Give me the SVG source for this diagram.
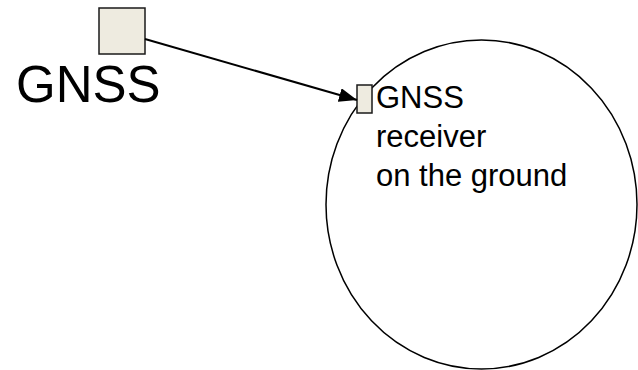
<svg xmlns="http://www.w3.org/2000/svg" width="638" height="370" viewBox="0 0 638 370">
  <style>
    .box { fill: #eeebe0; stroke: #1a1a1a; stroke-width: 1.5; }
    .lbl { font-family: "Liberation Sans", Arial, sans-serif; fill: #000; }
    .edge { stroke: #000; stroke-width: 2; fill: none; }
  </style>
  <defs>
    <marker id="arrow" markerUnits="userSpaceOnUse" markerWidth="20" markerHeight="14" refX="18" refY="7" orient="auto">
      <path d="M0,0 L18,7 L0,14 Z" fill="#000"/>
    </marker>
  </defs>

  <!-- ground region -->
  <g id="ground">
    <ellipse cx="481.5" cy="204.5" rx="155.5" ry="164.5" fill="none" stroke="#000" stroke-width="1.5"/>
    <text class="lbl" font-size="31" x="376" y="108">GNSS</text>
    <text class="lbl" font-size="31" x="376" y="147">receiver</text>
    <text class="lbl" font-size="31" x="376" y="186">on the ground</text>
  </g>

  <!-- receiver port -->
  <g id="receiver">
    <rect class="box" x="357" y="85" width="15" height="28"/>
  </g>

  <!-- satellite system -->
  <g id="gnss">
    <rect class="box" x="99" y="8" width="46" height="46"/>
    <text class="lbl" font-size="51" x="16" y="102">GNSS</text>
  </g>

  <g id="connectors">
    <line class="edge" x1="145" y1="39" x2="357" y2="100" marker-end="url(#arrow)"/>
  </g>
</svg>
